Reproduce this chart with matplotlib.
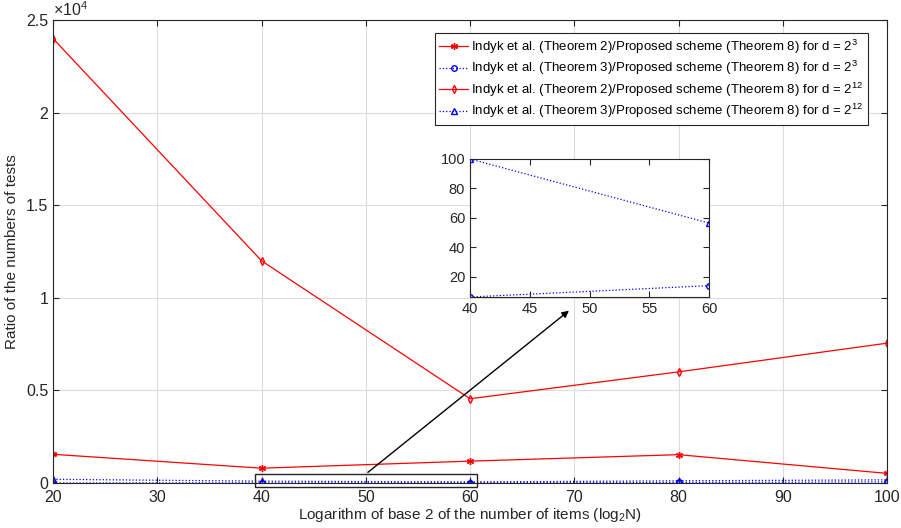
import matplotlib.pyplot as plt
import matplotlib.ticker as mticker

plt.rcParams['font.family'] = ['Liberation Sans', 'DejaVu Sans']
plt.rcParams['mathtext.default'] = 'regular'

# log2 N values
log_n = [20, 40, 60, 80, 100]

# ratio of test counts
th2_d3 = [1550, 800, 1180, 1530, 520]
th3_d3 = [2, 6.3, 14, 30, 60]
th2_d12 = [24000, 12000, 4550, 6000, 7550]
th3_d12 = [200, 100, 56.5, 120, 170]

inset_x = [40, 60]
inset_d3 = [6.3, 14]
inset_d12 = [100, 56.5]

labels = [
    'Indyk et al. (Theorem 2)/Proposed scheme (Theorem 8) for d = 2$^{3}$',
    'Indyk et al. (Theorem 3)/Proposed scheme (Theorem 8) for d = 2$^{3}$',
    'Indyk et al. (Theorem 2)/Proposed scheme (Theorem 8) for d = 2$^{12}$',
    'Indyk et al. (Theorem 3)/Proposed scheme (Theorem 8) for d = 2$^{12}$',
]

asterisk = (6, 2, 0)
red = '#ff0000'
blue = '#0000ff'
txt = '#262626'


def matlab_axes(ax, size=10, pad=3.5):
    ax.tick_params(direction='in', top=True, right=True, labelsize=size,
                   colors=txt, length=4, width=0.8, pad=pad)
    for s in ax.spines.values():
        s.set_color('#262626')
        s.set_linewidth(0.8)


fig = plt.figure(figsize=(9.01, 5.28), dpi=100)
ax = fig.add_axes([53 / 901, 45 / 528, 834 / 901, 463 / 528])

ax.plot(log_n, th2_d3, '-', color=red, marker=asterisk, ms=5, lw=0.9, label=labels[0])
ax.plot(log_n, th3_d3, ':', color=blue, marker='o', ms=4, mfc='none', lw=0.9, label=labels[1])
ax.plot(log_n, th2_d12, '-', color=red, marker='d', ms=4, mfc='none', lw=0.9, label=labels[2])
ax.plot(log_n, th3_d12, ':', color=blue, marker='^', ms=4, mfc='none', lw=0.9, label=labels[3])

ax.set_xlim(20, 100)
ax.set_ylim(0, 25000)
ax.set_xticks(range(20, 101, 10))
ax.set_yticks([0, 5000, 10000, 15000, 20000, 25000])
ax.yaxis.set_major_formatter(mticker.FuncFormatter(lambda v, p: '%g' % (v / 1e4)))
ax.grid(True, color='#dcdcdc', lw=0.8)
ax.set_axisbelow(True)
matlab_axes(ax, 11.5)
ax.tick_params(axis='x', pad=5)
ax.text(0.0, 1.003, r'$\times$10$^{4}$', transform=ax.transAxes, fontsize=11.5,
        color=txt, va='bottom', ha='left')
ax.set_xlabel('Logarithm of base 2 of the number of items (log$_{2}$N)', fontsize=11,
              color=txt, labelpad=1)
ax.set_ylabel('Ratio of the numbers of tests', fontsize=11, color=txt, labelpad=5)

leg = ax.legend(loc='upper right', bbox_to_anchor=(0.977, 0.972), fontsize=9.5,
                handlelength=2.2, handletextpad=0.2, borderpad=0.35, labelspacing=0.25,
                fancybox=False, framealpha=1, edgecolor='#262626', borderaxespad=0)
leg.get_frame().set_linewidth(0.8)
for t in leg.get_texts():
    t.set_color('black')

# zoom box and arrow
ax.add_patch(plt.Rectangle((39.4, -240), 21.3, 720, fill=False, ec='#262626',
                           lw=1.0, clip_on=False, zorder=5))
ax.annotate('', xy=(69.7, 9400), xytext=(50, 480),
            arrowprops=dict(arrowstyle='-|>', color='black', lw=1.0, mutation_scale=10),
            zorder=6)

# inset
ins = fig.add_axes([470 / 901, 231 / 528, 239 / 901, 138 / 528])
ins.plot(inset_x, inset_d3, ':', color=blue, marker='o', ms=4, mfc='none', lw=0.9)
ins.plot(inset_x, inset_d12, ':', color=blue, marker='^', ms=4, mfc='none', lw=0.9)
ins.set_xlim(40, 60)
ins.set_ylim(6.3, 100)
ins.set_xticks([40, 45, 50, 55, 60])
ins.set_yticks([20, 40, 60, 80, 100])
ins.patch.set_facecolor('white')
matlab_axes(ins, 10.5)

fig.savefig('out.png', dpi=100)
